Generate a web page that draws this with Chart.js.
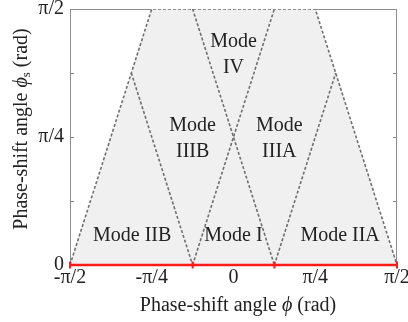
<!DOCTYPE html>
<html>
<head>
<meta charset="utf-8">
<script src="https://cdn.jsdelivr.net/npm/chart.js@4.4.1/dist/chart.umd.min.js"></script>
<style>
  html, body { margin: 0; padding: 0; background: #fff; }
  canvas { display: block; }
</style>
</head>
<body>
<canvas id="chart" width="408" height="322"></canvas>
<script>
// valores en unidades de pi
const phiTicks = [-0.5, -0.25, 0, 0.25, 0.5];
const phiTickLabels = ['-π/2', '-π/4', '0', 'π/4', 'π/2'];
const phiSTicks = [0, 0.125, 0.25, 0.375, 0.5];
const phiSTickLabels = ['0', '', 'π/4', '', 'π/2'];

// region sombreada (trapecio)
const regionPhi = [-0.5, -0.25, 0.25, 0.5];
const regionPhiS = [0, 0.5, 0.5, 0];

// fronteras discontinuas
const lineDownPhi = [-0.125, 0.125];
const lineDownPhiS = [0.5, 0];
const lineUpPhi = [-0.125, 0.125];
const lineUpPhiS = [0, 0.5];
const innerLeftPhi = [-0.3125, -0.125];
const innerLeftPhiS = [0.375, 0];
const innerRightPhi = [0.125, 0.3125];
const innerRightPhiS = [0, 0.375];

// linea roja sobre el eje
const redPhi = [-0.5, -0.125, 0.125, 0.5];
const redPhiS = [0, 0, 0, 0];

// etiquetas de modos
const modeLabels = [['Mode', 'IV'], ['Mode', 'IIIB'], ['Mode', 'IIIA'], ['Mode IIB'], ['Mode I'], ['Mode IIA']];
const modePhi = [0, -0.125, 0.14, -0.31, 0, 0.326];
const modePhiS = [0.411, 0.247, 0.247, 0.057, 0.057, 0.057];

const pts = (xs, ys) => xs.map((x, i) => ({ x: x, y: ys[i] }));

const FONT = '"Liberation Serif", "Times New Roman", serif';
const TEXT = '#222';
const AXIS = '#8c8c8c';

const dashed = (xs, ys) => ({
  data: pts(xs, ys),
  borderColor: '#6f6f6f',
  borderWidth: 1.6,
  borderDash: [3, 2],
  pointRadius: 0,
  fill: false,
  order: 2
});

// marco, marcas interiores, titulos y etiquetas
const decorations = {
  id: 'decorations',
  beforeDatasetsDraw(chart) {
    const ctx = chart.ctx;
    const a = chart.chartArea;
    const xs = chart.scales.x, ys = chart.scales.y;
    ctx.save();
    ctx.strokeStyle = AXIS;
    ctx.lineWidth = 1;
    ctx.strokeRect(a.left + 0.5, a.top + 0.5, a.right - a.left - 1, a.bottom - a.top);
    ctx.beginPath();
    phiTicks.slice(1, -1).forEach(v => {
      const px = Math.round(xs.getPixelForValue(v)) + 0.5;
      ctx.moveTo(px, a.bottom); ctx.lineTo(px, a.bottom - 4);
      ctx.moveTo(px, a.top); ctx.lineTo(px, a.top + 4);
    });
    phiSTicks.slice(1, -1).forEach(v => {
      const py = Math.round(ys.getPixelForValue(v)) + 0.5;
      ctx.moveTo(a.left, py); ctx.lineTo(a.left + 4, py);
      ctx.moveTo(a.right, py); ctx.lineTo(a.right - 4, py);
    });
    ctx.stroke();
    ctx.restore();
  },
  afterDatasetsDraw(chart) {
    const ctx = chart.ctx;
    const xs = chart.scales.x, ys = chart.scales.y;
    ctx.save();
    ctx.fillStyle = TEXT;
    ctx.textAlign = 'center';
    ctx.textBaseline = 'middle';
    ctx.font = '20px ' + FONT;
    modeLabels.forEach((lines, i) => {
      const cx = xs.getPixelForValue(modePhi[i]);
      const cy = ys.getPixelForValue(modePhiS[i]);
      const lh = 26;
      lines.forEach((t, j) => {
        ctx.fillText(t, cx, cy + (j - (lines.length - 1) / 2) * lh);
      });
    });

    const drawPieces = (pieces, x, y) => {
      let w = 0;
      pieces.forEach(p => { ctx.font = p.font; w += ctx.measureText(p.t).width; });
      let cur = x - w / 2;
      ctx.textAlign = 'left';
      pieces.forEach(p => {
        ctx.font = p.font;
        ctx.fillText(p.t, cur, y + (p.dy || 0));
        cur += ctx.measureText(p.t).width;
      });
    };
    ctx.textBaseline = 'alphabetic';
    // titulo eje x
    drawPieces([
      { t: 'Phase-shift angle ', font: '20px ' + FONT },
      { t: 'ϕ', font: 'italic 20px ' + FONT },
      { t: ' (rad)', font: '20px ' + FONT }
    ], 238, 311);

    // titulo eje y
    ctx.save();
    ctx.translate(27, 129);
    ctx.rotate(-Math.PI / 2);
    drawPieces([
      { t: 'Phase-shift angle ', font: '20px ' + FONT },
      { t: 'ϕ', font: 'italic 20px ' + FONT },
      { t: 's', font: '13px ' + FONT, dy: 3 },
      { t: ' (rad)', font: '20px ' + FONT }
    ], 0, 0);
    ctx.restore();
    ctx.restore();
  }
};

new Chart(document.getElementById('chart'), {
  type: 'line',
  data: {
    datasets: [
      {
        data: pts(redPhi, redPhiS),
        borderColor: '#ff1a1a',
        borderWidth: 2.5,
        pointStyle: 'line',
        rotation: 90,
        pointRadius: 3.5,
        pointBorderColor: '#ff1a1a',
        pointBorderWidth: 2,
        fill: false,
        clip: false,
        order: 1
      },
      dashed(regionPhi, regionPhiS),
      dashed(lineDownPhi, lineDownPhiS),
      dashed(lineUpPhi, lineUpPhiS),
      dashed(innerLeftPhi, innerLeftPhiS),
      dashed(innerRightPhi, innerRightPhiS),
      {
        data: pts(regionPhi, regionPhiS),
        backgroundColor: '#f0f0f0',
        borderWidth: 0,
        pointRadius: 0,
        fill: 'origin',
        order: 3
      }
    ]
  },
  options: {
    responsive: false,
    animation: false,
    devicePixelRatio: 1,
    layout: { padding: { top: 9, right: 11, left: 0, bottom: 0 } },
    plugins: { legend: { display: false }, tooltip: { enabled: false } },
    scales: {
      x: {
        type: 'linear',
        min: -0.5,
        max: 0.5,
        afterBuildTicks: s => { s.ticks = phiTicks.map(v => ({ value: v })); },
        afterFit: s => { s.height = 57; s.paddingLeft = 0; s.paddingRight = 0; },
        grid: { display: false, drawTicks: false },
        border: { display: false },
        ticks: {
          maxRotation: 0,
          padding: 1,
          color: TEXT,
          font: { family: FONT, size: 20 },
          callback: (v, i) => phiTickLabels[i]
        }
      },
      y: {
        type: 'linear',
        min: 0,
        max: 0.5,
        afterBuildTicks: s => { s.ticks = phiSTicks.map(v => ({ value: v })); },
        afterFit: s => { s.width = 70; s.paddingTop = 0; s.paddingBottom = 0; },
        grid: { display: false, drawTicks: false },
        border: { display: false },
        ticks: {
          padding: 6,
          color: TEXT,
          font: { family: FONT, size: 20 },
          callback: (v, i) => phiSTickLabels[i]
        }
      }
    }
  },
  plugins: [decorations]
});
</script>
</body>
</html>
